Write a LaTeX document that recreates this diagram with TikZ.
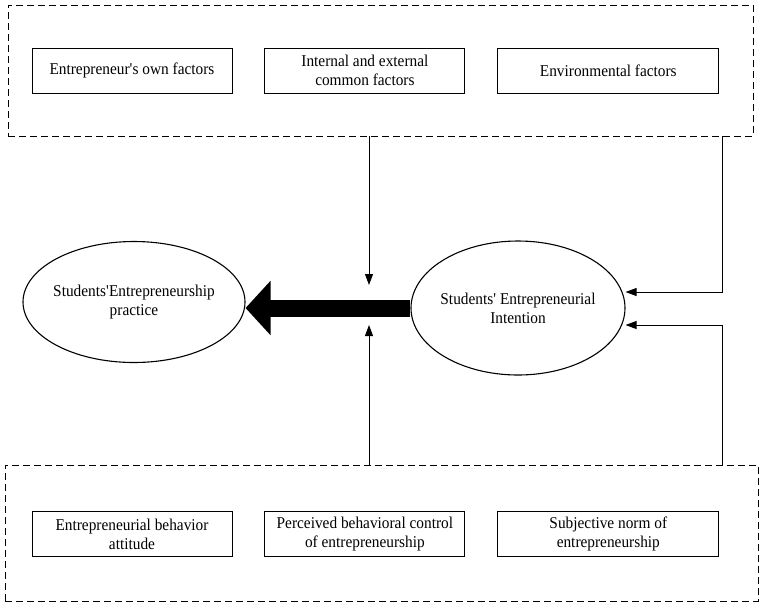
\documentclass[tikz,border=0pt]{standalone}
\usepackage{fontspec}
\setmainfont[FakeStretch=0.93]{Liberation Serif}
\usetikzlibrary{arrows.meta,positioning,shapes.geometric}

\begin{document}
\begin{tikzpicture}[x=1pt, y=-1pt, font=\fontsize{16.5}{19}\selectfont, align=center, line width=0.9pt,
  factor/.style={draw, minimum width=200pt, minimum height=45pt, inner sep=2pt},
  group/.style={draw, dash pattern=on 7pt off 4pt},
  belief/.style={draw, ellipse, inner sep=-10pt, line width=1.1pt},
  link/.style={-{Triangle[length=11pt,width=8pt]}}]
% Frame of the picture
\useasboundingbox (0,0) rectangle (765,606);

% Groups of factors
\node (top)    [group, minimum width=745pt, minimum height=131pt] at (380.5,70.5) {};
\node (bottom) [group, minimum width=753pt, minimum height=136pt] at (381.5,533) {};

\node (own)        [factor]                  at (132,70.5) {Entrepreneur\textquotesingle s own factors};
\node (common)     [factor, right=32pt of own]           {Internal and external\\common factors};
\node (environ)    [factor, right=32pt of common, minimum width=221pt] {Environmental factors};

\node (attitude)   [factor]                  at (132,534)  {Entrepreneurial behavior\\attitude};
\node (control)    [factor, right=32pt of attitude]      {Perceived behavioral control\\of entrepreneurship};
\node (norm)       [factor, right=32pt of control, minimum width=221pt] {Subjective norm of\\entrepreneurship};

% Ellipses
\node (practice)   [belief, minimum width=222pt, minimum height=121pt] at (134,302) {Students\textquotesingle Entrepreneurship\\practice};
\node (intention)  [belief, minimum width=214pt, minimum height=134pt] at (518,308) {Students\textquotesingle{} Entrepreneurial\\Intention};

% Connectors
\coordinate (gapdown) at (369,285);
\coordinate (gapup)   at (369,325);
\draw[link] (top.south -| gapdown) -- (gapdown);
\draw[link] (bottom.north -| gapup) -- (gapup);
\draw[link] (top.south -| 722,0) |- (intention.east |- 0,292);
\draw[link] (bottom.north -| 722,0) |- (intention.east |- 0,325);
\draw[line width=17pt, -{Triangle[length=25pt,width=53pt]}] (intention.west) -- (intention.west -| practice.east);

\end{tikzpicture}
\end{document}
